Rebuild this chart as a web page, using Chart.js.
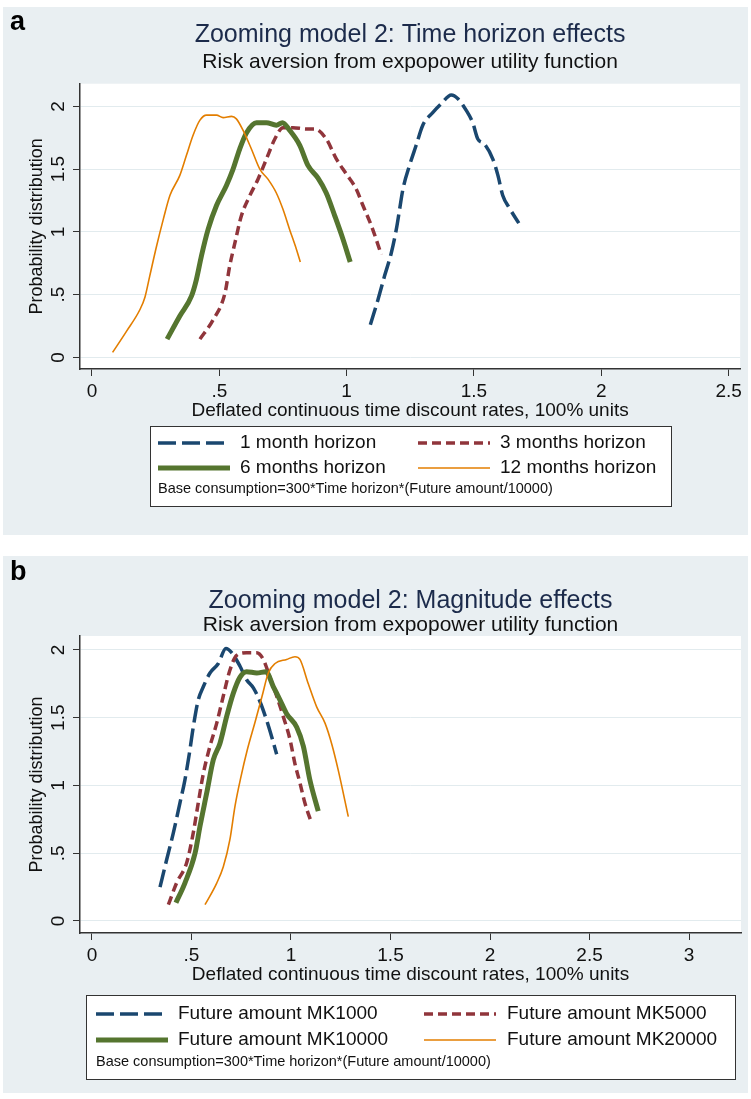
<!DOCTYPE html>
<html lang="en">
<head>
<meta charset="UTF-8">
<title>Zooming model 2</title>
<script src="https://cdn.jsdelivr.net/npm/chart.js"></script>
<style>
  body { margin: 0; background: #fff; width: 751px; height: 1099px; position: relative; overflow: hidden; }
  canvas { position: absolute; background: #e9eff2; }
  #panelA { left: 3px; top: 7px; }
  #panelB { left: 3px; top: 556px; }
</style>
</head>
<body>
<canvas id="panelA" width="745" height="528"></canvas>
<canvas id="panelB" width="745" height="537"></canvas>
<script>
// ---- panel a: time horizon effects ----
const horizonNames = ['1 month horizon', '3 months horizon', '6 months horizon', '12 months horizon'];
const h1x = [1.093, 1.123, 1.149, 1.175, 1.195, 1.208, 1.221, 1.247, 1.273, 1.299, 1.338, 1.371, 1.411, 1.437, 1.469, 1.495, 1.515, 1.541, 1.574, 1.594, 1.613, 1.639, 1.676];
const h1y = [0.26, 0.46, 0.65, 0.83, 1.02, 1.18, 1.34, 1.53, 1.69, 1.85, 1.95, 2.02, 2.09, 2.06, 1.97, 1.87, 1.74, 1.70, 1.58, 1.45, 1.29, 1.19, 1.07];
const h3x = [0.424, 0.476, 0.522, 0.541, 0.561, 0.587, 0.62, 0.652, 0.685, 0.718, 0.75, 0.789, 0.842, 0.875, 0.92, 0.96, 0.999, 1.038, 1.064, 1.097, 1.136];
const h3y = [0.146, 0.30, 0.51, 0.73, 0.91, 1.13, 1.29, 1.42, 1.58, 1.74, 1.83, 1.83, 1.82, 1.82, 1.74, 1.58, 1.46, 1.34, 1.21, 1.05, 0.82];
const h6x = [0.295, 0.345, 0.391, 0.41, 0.43, 0.456, 0.489, 0.528, 0.554, 0.58, 0.607, 0.646, 0.685, 0.724, 0.748, 0.776, 0.816, 0.848, 0.887, 0.92, 0.953, 0.986, 1.014];
const h6y = [0.146, 0.33, 0.49, 0.62, 0.81, 1.02, 1.21, 1.37, 1.50, 1.66, 1.79, 1.87, 1.87, 1.85, 1.87, 1.81, 1.69, 1.53, 1.43, 1.31, 1.13, 0.94, 0.76];
const h12x = [0.081, 0.136, 0.188, 0.208, 0.227, 0.254, 0.28, 0.306, 0.345, 0.371, 0.397, 0.424, 0.45, 0.489, 0.515, 0.548, 0.567, 0.593, 0.626, 0.659, 0.691, 0.724, 0.75, 0.776, 0.803, 0.818];
const h12y = [0.04, 0.21, 0.38, 0.48, 0.65, 0.89, 1.10, 1.29, 1.45, 1.61, 1.77, 1.89, 1.93, 1.93, 1.91, 1.92, 1.90, 1.81, 1.66, 1.50, 1.42, 1.31, 1.18, 1.02, 0.86, 0.76];

// ---- panel b: magnitude effects ----
const amountNames = ['Future amount MK1000', 'Future amount MK5000', 'Future amount MK10000', 'Future amount MK20000'];
const m1x = [0.342, 0.375, 0.409, 0.442, 0.467, 0.492, 0.509, 0.534, 0.56, 0.593, 0.635, 0.673, 0.702, 0.744, 0.777, 0.811, 0.844, 0.878, 0.903, 0.928];
const m1y = [0.25, 0.45, 0.65, 0.87, 1.04, 1.26, 1.43, 1.63, 1.73, 1.83, 1.90, 2.01, 1.98, 1.88, 1.78, 1.72, 1.62, 1.48, 1.36, 1.23];
const m5x = [0.384, 0.425, 0.476, 0.509, 0.534, 0.56, 0.593, 0.627, 0.66, 0.693, 0.727, 0.777, 0.828, 0.861, 0.894, 0.928, 0.961, 0.995, 1.02, 1.045, 1.07, 1.104];
const m5y = [0.12, 0.28, 0.43, 0.65, 0.87, 1.09, 1.29, 1.46, 1.66, 1.85, 1.96, 1.98, 1.98, 1.93, 1.80, 1.66, 1.51, 1.34, 1.16, 1.02, 0.87, 0.72];
const m10x = [0.422, 0.467, 0.518, 0.543, 0.576, 0.61, 0.643, 0.677, 0.71, 0.744, 0.777, 0.828, 0.874, 0.911, 0.945, 0.978, 1.029, 1.062, 1.095, 1.137];
const m10y = [0.135, 0.28, 0.50, 0.70, 0.94, 1.19, 1.31, 1.51, 1.68, 1.80, 1.84, 1.83, 1.84, 1.73, 1.63, 1.53, 1.43, 1.29, 1.04, 0.81];
const m20x = [0.568, 0.627, 0.66, 0.693, 0.719, 0.748, 0.78, 0.82, 0.855, 0.886, 0.92, 0.978, 1.02, 1.045, 1.087, 1.129, 1.171, 1.204, 1.238, 1.288];
const m20y = [0.12, 0.28, 0.40, 0.60, 0.85, 1.06, 1.26, 1.47, 1.66, 1.83, 1.90, 1.93, 1.95, 1.93, 1.75, 1.58, 1.46, 1.31, 1.11, 0.77];

// ---- axes ----
const xTicksA = [0, 0.5, 1, 1.5, 2, 2.5];
const xLabelsA = ['0', '.5', '1', '1.5', '2', '2.5'];
const xTicksB = [0, 0.5, 1, 1.5, 2, 2.5, 3];
const xLabelsB = ['0', '.5', '1', '1.5', '2', '2.5', '3'];
const yTicks = [0, 0.5, 1, 1.5, 2];
const yLabels = ['0', '.5', '1', '1.5', '2'];

const noteText = 'Base consumption=300*Time horizon*(Future amount/10000)';
const xTitle = 'Deflated continuous time discount rates, 100% units';
const yTitle = 'Probability distribution';
const subTitle = 'Risk aversion from expopower utility function';

const FONT = '"Liberation Sans", Arial, Helvetica, sans-serif';
Chart.defaults.font.family = FONT;

// navy, maroon, forest green, dark orange (Stata s2color)
const lineStyles = [
  { color: '#1a476f', width: 3.5, dash: [18, 6], order: 4 },
  { color: '#90353b', width: 3.5, dash: [9, 5], order: 3 },
  { color: '#55752f', width: 5, dash: [], order: 2 },
  { color: '#e37e00', width: 1.6, dash: [], order: 1 }
];

function toPoints(xs, ys) {
  return xs.map((x, i) => ({ x: x, y: ys[i] }));
}

const plotBg = {
  id: 'plotBg',
  beforeDraw(chart) {
    const a = chart.chartArea, ctx = chart.ctx;
    ctx.save();
    ctx.fillStyle = '#ffffff';
    ctx.fillRect(a.left, a.top, a.right - a.left, a.bottom - a.top);
    ctx.restore();
  }
};

// boxed legend in two columns with a note line, plus the panel letter
const boxLegend = {
  id: 'boxLegend',
  afterDraw(chart, args, o) {
    const ctx = chart.ctx;
    ctx.save();
    ctx.font = 'bold 27px ' + FONT;
    ctx.fillStyle = '#000';
    ctx.textAlign = 'left';
    ctx.textBaseline = 'middle';
    ctx.fillText(o.letter, 7, o.letterY);

    ctx.fillStyle = '#fff';
    ctx.fillRect(o.left, o.top, o.width, o.height);
    ctx.strokeStyle = '#333';
    ctx.lineWidth = 1;
    ctx.strokeRect(o.left + 0.5, o.top + 0.5, o.width, o.height);

    chart.data.datasets.forEach((ds, i) => {
      const col = i % 2, row = Math.floor(i / 2);
      const y = o.top + o.rowY[row];
      ctx.beginPath();
      ctx.setLineDash(ds.borderDash);
      ctx.strokeStyle = ds.borderColor;
      ctx.lineWidth = ds.borderWidth;
      ctx.moveTo(o.sampleX[col], y);
      ctx.lineTo(o.sampleX[col] + o.sampleW, y);
      ctx.stroke();
      ctx.setLineDash([]);
      ctx.fillStyle = '#111';
      ctx.font = '19px ' + FONT;
      ctx.fillText(ds.label, o.textX[col], y);
    });
    ctx.font = '14.5px ' + FONT;
    ctx.fillStyle = '#111';
    ctx.fillText(noteText, o.sampleX[0], o.top + o.noteY);
    ctx.restore();
  }
};

function makePanel(id, p) {
  const datasets = p.names.map((name, i) => ({
    label: name,
    data: toPoints(p.xs[i], p.ys[i]),
    borderColor: lineStyles[i].color,
    borderWidth: lineStyles[i].width,
    borderDash: lineStyles[i].dash,
    order: lineStyles[i].order,
    pointRadius: 0,
    cubicInterpolationMode: 'monotone',
    fill: false
  }));
  return new Chart(document.getElementById(id), {
    type: 'line',
    data: { datasets: datasets },
    plugins: [plotBg, boxLegend],
    options: {
      responsive: false,
      animation: false,
      layout: { padding: { left: 0, right: 7, top: 0, bottom: p.padBottom } },
      plugins: {
        legend: { display: false },
        tooltip: { enabled: false },
        title: {
          display: true, text: p.title, fullSize: false, color: '#1c2b4b',
          font: { size: 25, weight: 'normal', lineHeight: 0.9 },
          padding: { top: p.titleTop, bottom: p.titleGap }
        },
        subtitle: {
          display: true, text: subTitle, fullSize: false, color: '#111',
          font: { size: 21, lineHeight: 0.9 },
          padding: { top: 0, bottom: p.subBottom }
        },
        boxLegend: p.legend
      },
      scales: {
        x: {
          type: 'linear', min: p.xMin, max: p.xMax,
          afterBuildTicks: s => { s.ticks = p.xTicks.map(v => ({ value: v })); },
          afterFit: s => { s.height = 58; },
          ticks: {
            callback: v => p.xLabels[p.xTicks.indexOf(v)],
            color: '#111', font: { size: 19, lineHeight: 1 }, padding: 6,
            maxRotation: 0, autoSkip: false
          },
          grid: { drawOnChartArea: false, drawTicks: true, tickLength: 7, tickColor: '#333', tickWidth: 1 },
          border: { display: true, color: '#333', width: 1.5 },
          title: { display: true, text: xTitle, color: '#111', font: { size: 19, lineHeight: 1 }, padding: { top: 0, bottom: 7 } }
        },
        y: {
          type: 'linear', min: p.yMin, max: p.yMax,
          afterBuildTicks: s => { s.ticks = yTicks.map(v => ({ value: v })); },
          afterFit: s => { s.width = 77; },
          ticks: {
            callback: v => yLabels[yTicks.indexOf(v)],
            color: '#111', font: { size: 19 }, padding: 1,
            minRotation: 90, maxRotation: 90, crossAlign: 'center', autoSkip: false
          },
          grid: { color: '#e2ebee', lineWidth: 1, drawTicks: true, tickLength: 7, tickColor: '#333', tickWidth: 1 },
          border: { display: true, color: '#333', width: 1.5 },
          title: { display: true, text: yTitle, color: '#111', font: { size: 18, lineHeight: 1 }, padding: { top: 25, bottom: 0 } }
        }
      }
    }
  });
}

makePanel('panelA', {
  title: 'Zooming model 2: Time horizon effects',
  names: horizonNames,
  xs: [h1x, h3x, h6x, h12x], ys: [h1y, h3y, h6y, h12y],
  xTicks: xTicksA, xLabels: xLabelsA,
  xMin: -0.047, xMax: 2.545, yMin: -0.092, yMax: 2.18,
  padBottom: 108, titleTop: 16.75, titleGap: 7, subBottom: 11.6,
  legend: { letter: 'a', letterY: 16, left: 147, top: 419, width: 521, height: 80,
            sampleX: [155, 415], sampleW: 72, textX: [237, 497], rowY: [17, 42], noteY: 63 }
});

makePanel('panelB', {
  title: 'Zooming model 2: Magnitude effects',
  names: amountNames,
  xs: [m1x, m5x, m10x, m20x], ys: [m1y, m5y, m10y, m20y],
  xTicks: xTicksB, xLabels: xLabelsB,
  xMin: -0.06, xMax: 3.261, yMin: -0.0886, yMax: 2.103,
  padBottom: 102, titleTop: 33.75, titleGap: 3.3, subBottom: 1.55,
  legend: { letter: 'b', letterY: 17, left: 83, top: 439, width: 649, height: 84,
            sampleX: [93, 421], sampleW: 72, textX: [175, 504], rowY: [19, 45], noteY: 67 }
});
</script>
</body>
</html>
